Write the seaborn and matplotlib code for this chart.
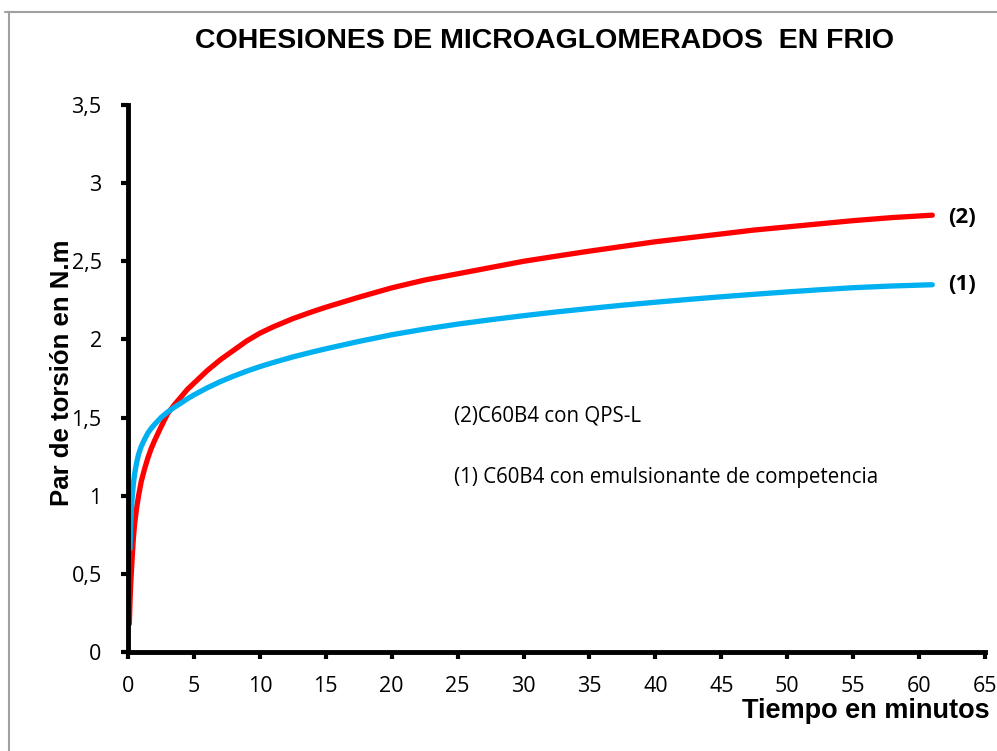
import numpy as np
import pandas as pd
import matplotlib.pyplot as plt
from matplotlib.lines import Line2D
import seaborn as sns

# curve (2) C60B4 con QPS-L
t_2 = [0.1, 0.15, 0.2, 0.3, 0.4, 0.5, 0.65, 0.8, 1, 1.25, 1.5, 1.75, 2, 2.5, 3, 3.5, 4, 4.5, 5,
       6, 7, 8, 9, 10, 11, 12.5, 14, 15, 17.5, 20, 22.5, 25, 27.5, 30, 32.5, 35, 37.5, 40,
       42.5, 45, 47.5, 50, 52.5, 55, 58, 61]
par_2 = [0.18, 0.32, 0.43, 0.58, 0.72, 0.82, 0.92, 1.00, 1.09, 1.17, 1.24, 1.30, 1.35, 1.44, 1.525,
         1.58, 1.63, 1.68, 1.72, 1.80, 1.87, 1.93, 1.99, 2.04, 2.08, 2.133, 2.178, 2.206, 2.27, 2.33,
         2.38, 2.42, 2.46, 2.50, 2.533, 2.565, 2.595, 2.625, 2.65, 2.675, 2.70, 2.72, 2.74, 2.76,
         2.78, 2.795]

# curve (1) C60B4 con emulsionante de competencia
t_1 = [0.15, 0.2, 0.25, 0.3, 0.4, 0.5, 0.65, 0.8, 1, 1.25, 1.5, 1.75, 2, 2.5, 3, 3.5, 4, 4.5, 5,
       6, 7, 8, 9, 10, 11, 12.5, 14, 15, 17.5, 20, 22.5, 25, 27.5, 30, 32.5, 35, 37.5, 40,
       42.5, 45, 47.5, 50, 52.5, 55, 58, 61]
par_1 = [0.66, 0.80, 0.90, 0.97, 1.07, 1.14, 1.21, 1.265, 1.315, 1.36, 1.40, 1.43, 1.455, 1.50, 1.535,
         1.565, 1.592, 1.62, 1.645, 1.69, 1.73, 1.765, 1.797, 1.826, 1.852, 1.888, 1.92, 1.94, 1.987,
         2.03, 2.066, 2.098, 2.126, 2.152, 2.176, 2.198, 2.219, 2.238, 2.256, 2.273, 2.289, 2.304,
         2.318, 2.331, 2.342, 2.35]

x_ticks = [0, 5, 10, 15, 20, 25, 30, 35, 40, 45, 50, 55, 60, 65]
y_ticks = [0, 0.5, 1, 1.5, 2, 2.5, 3, 3.5]
y_tick_labels = ['0', '0,5', '1', '1,5', '2', '2,5', '3', '3,5']

df2 = pd.DataFrame({'t': t_2, 'par': par_2})
df1 = pd.DataFrame({'t': t_1, 'par': par_1})

sns.set_style('ticks')
plt.rcParams['font.family'] = ['Open Sans', 'DejaVu Sans']
plt.rcParams['text.color'] = 'black'
plt.rcParams['xtick.color'] = 'black'
plt.rcParams['ytick.color'] = 'black'

fig = plt.figure(figsize=(9.97, 7.51), dpi=100)
ax = fig.add_axes([0.1284, 0.1318, 0.8596, 0.7284])

sns.lineplot(data=df2, x='t', y='par', color='#FF0000', linewidth=3.8, ax=ax,
             solid_capstyle='round')
sns.lineplot(data=df1, x='t', y='par', color='#00B0F0', linewidth=3.8, ax=ax,
             solid_capstyle='round')

ax.set_xlim(0, 65)
ax.set_ylim(0, 3.5)
ax.set_xticks(x_ticks)
ax.set_xticklabels([str(v) for v in x_ticks])
ax.set_yticks(y_ticks)
ax.set_yticklabels(y_tick_labels)
ax.tick_params(axis='both', labelsize=15.5, length=5, width=3, color='black',
               labelcolor='black')
ax.tick_params(axis='x', pad=12)
ax.tick_params(axis='y', pad=14)

for side in ['top', 'right']:
    ax.spines[side].set_visible(False)
for side in ['left', 'bottom']:
    ax.spines[side].set_linewidth(3.5)
    ax.spines[side].set_color('black')

ax.set_xlabel('')
ax.set_ylabel('')

fig.text(0.546, 0.945, 'COHESIONES DE MICROAGLOMERADOS  EN FRIO',
         ha='center', va='center', fontsize=20.5, fontweight='bold',
         family='Liberation Sans', color='black')
fig.text(0.062, 0.504, 'Par de torsión en N.m', rotation=90, ha='center', va='center',
         fontsize=18.5, fontweight='bold', family='Liberation Sans', color='black')
fig.text(0.993, 0.053, 'Tiempo en minutos', ha='right', va='center',
         fontsize=19.5, fontweight='bold', family='Liberation Sans', color='black')

ax.text(24.7, 1.51, '(2)C60B4 con QPS-L', fontsize=14.8, va='center', ha='left')
ax.text(24.7, 1.115, '(1) C60B4 con emulsionante de competencia', fontsize=14.8,
        va='center', ha='left')
ax.text(62.2, 2.78, '(2)', fontsize=16, fontweight='bold', va='center', ha='left')
ax.text(62.2, 2.35, '(1)', fontsize=16, fontweight='bold', va='center', ha='left')

# outer frame
fig.add_artist(Line2D([0.009, 0.009], [0.0, 0.984], color='#a0a0a0', linewidth=1.5,
                      transform=fig.transFigure))
fig.add_artist(Line2D([0.005, 1.0], [0.984, 0.984], color='#a0a0a0', linewidth=1.5,
                      transform=fig.transFigure))

fig.savefig('out.png', dpi=100)
